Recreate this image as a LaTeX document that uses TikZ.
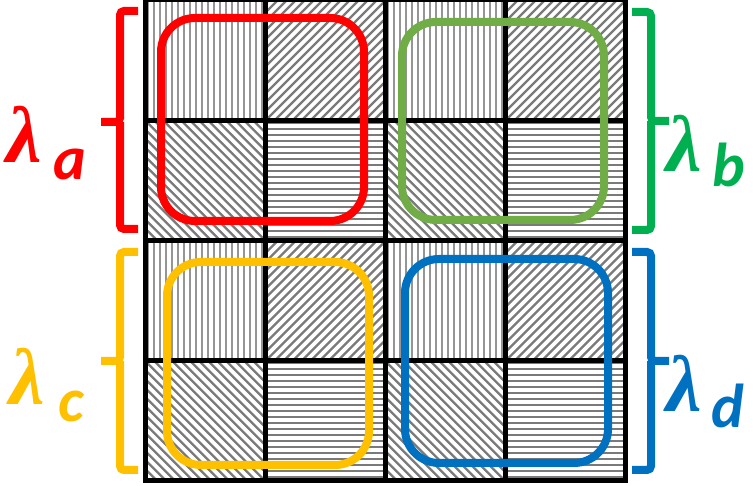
\documentclass[tikz,border=0pt]{standalone}
\usepackage{fontspec}
\setmainfont{Carlito}
\newfontfamily\lamfont{Liberation Serif}
\definecolor{cred}{HTML}{FF0000}
\definecolor{cgreenbox}{HTML}{70AD47}
\definecolor{cgreen}{HTML}{00B050}
\definecolor{cyellow}{HTML}{FFC000}
\definecolor{cblue}{HTML}{0070C0}
\definecolor{hatch}{HTML}{7A7A7A}
\tikzset{
  hatchline/.style={line width=2.2pt,hatch},
  hline/.style={line width=2pt,hatch},
  vline/.style={line width=1.6pt,hatch!80},
  gridline/.style={line width=5pt,black},
  group/.style={line width=8pt,rounded corners=34pt},
  brace/.style={line width=8pt,rounded corners=4pt},
  lam/.style={font=\lamfont\fontsize{80}{82}\selectfont\bfseries\itshape,inner sep=0pt,anchor=base west},
  sub/.style={font=\fontsize{62}{64}\selectfont\bfseries\itshape,inner sep=0pt,anchor=base west}
}
\begin{document}
\begin{tikzpicture}[x=1pt,y=1pt]
\useasboundingbox (0,0) rectangle (753,486);
% cells
\foreach \bx/\by/\hy in {145/486/363,385/486/363,145/245.5/123,385/245.5/123}{
    \fill[white] (\bx,\by) rectangle ++(240,-240.5);
    % vertical lines, top-left
    \begin{scope}
      \clip (\bx,\by) rectangle ++(120,-120.25);
      \foreach \k in {3,9,...,120}{ \draw[vline] (\bx+\k,\by) -- ++(0,-121); }
    \end{scope}
    % rising diagonals, top-right
    \begin{scope}
      \clip (\bx+120,\by) rectangle ++(120,-120.25);
      \foreach \k in {-126,-117,...,126}{ \draw[hatchline] (\bx+120+\k,\by-121) -- ++(122,122); }
    \end{scope}
    % falling diagonals, bottom-left
    \begin{scope}
      \clip (\bx,\by-120.25) rectangle ++(120,-120.25);
      \foreach \k in {-126,-117,...,126}{ \draw[hatchline] (\bx+\k,\by-120.25) -- ++(122,-122); }
    \end{scope}
    % horizontal lines, bottom-right
    \begin{scope}
      \clip (\bx+120,\by-120.25) rectangle ++(120,-120.25);
      \foreach \k in {0,6,...,120}{ \draw[hline] (\bx+120,\hy-\k) -- ++(121,0); }
    \end{scope}
}
% grid lines
\foreach \gx in {145,265,385,505,625}{
  \draw[gridline] (\gx,486) -- (\gx,5);
}
\foreach \gy in {486,365.75,245.5,125.25,5}{
  \draw[gridline] (142.5,\gy) -- (627.5,\gy);
}
% group boxes
\draw[group,cred] (161,468) rectangle (364,265);
\draw[group,cgreenbox] (402,464) rectangle (604,266);
\draw[group,cyellow] (167,224) rectangle (369,21);
\draw[group,cblue] (405,227) rectangle (608,23);
% braces
\coordinate (ra1) at (138,475); \coordinate (ra2) at (120,475); \coordinate (ram) at (120,364);
\coordinate (rat) at (101,364); \coordinate (ra3) at (120,257); \coordinate (ra4) at (138,257);
\draw[brace,cred] (ra1) -- (ra2) -- (ram) -- (rat);
\draw[brace,cred] (ram) -- (ra3) -- (ra4);
\coordinate (ya1) at (138,234); \coordinate (ya2) at (120,234); \coordinate (yam) at (120,125);
\coordinate (yat) at (101,125); \coordinate (ya3) at (120,16); \coordinate (ya4) at (138,16);
\draw[brace,cyellow] (ya1) -- (ya2) -- (yam) -- (yat);
\draw[brace,cyellow] (yam) -- (ya3) -- (ya4);
\coordinate (ga1) at (632,474); \coordinate (ga2) at (651,474); \coordinate (gam) at (651,365);
\coordinate (gat) at (669,365); \coordinate (ga3) at (651,256); \coordinate (ga4) at (632,256);
\draw[brace,cgreen] (ga1) -- (ga2) -- (gam) -- (gat);
\draw[brace,cgreen] (gam) -- (ga3) -- (ga4);
\coordinate (ba1) at (632,234); \coordinate (ba2) at (651,234); \coordinate (bam) at (651,125);
\coordinate (bat) at (669,125); \coordinate (ba3) at (651,16); \coordinate (ba4) at (632,16);
\draw[brace,cblue] (ba1) -- (ba2) -- (bam) -- (bat);
\draw[brace,cblue] (bam) -- (ba3) -- (ba4);
% labels
\node[lam,text=cred] (la) at (6,323) {λ};
\node[sub,text=cred] (sa) at (53,306) {a};
\node[lam,text=cgreen] (lb) at (666,314) {λ};
\node[sub,text=cgreen] (sb) at (712,299) {b};
\node[lam,text=cyellow] (lc) at (9,81) {λ};
\node[sub,text=cyellow] (sc) at (58,64) {c};
\node[lam,text=cblue] (ld) at (666,74) {λ};
\node[sub,text=cblue] (sd) at (711,58) {d};
\end{tikzpicture}
\end{document}
